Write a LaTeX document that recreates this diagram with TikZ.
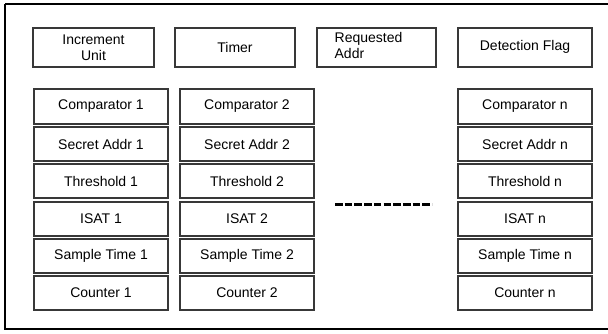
\documentclass[tikz,border=0pt]{standalone}
\usepackage{fontspec}
\setmainfont{Liberation Sans}
\begin{document}
\begin{tikzpicture}[x=1pt,y=-1pt,
  cell/.style={draw=black!78, line width=2pt, rectangle, inner sep=0pt,
    minimum width=134pt, minimum height=34.5pt, font=\fontsize{14}{15.5}\selectfont},
  topcell/.style={cell, minimum height=39pt, align=center},
  frame/.style={draw=black, line width=2.6pt},
  gap/.style={draw=black, line width=3pt, dash pattern=on 7.6pt off 2.1pt}]
\useasboundingbox (0,0) rectangle (608,333);
% enclosing frame (its right edge lies past the page)
\draw[frame] (5,4) -- (614,4) (5,4) -- (5,329) -- (614,329);
% top row of shared units
\node[topcell, minimum width=121pt] (inc) at (93.5,47.5) {Increment\\Unit};
\node[topcell, minimum width=120pt] (timer) at (235,47.5) {Timer};
\node[topcell, minimum width=119pt, align=left] (req) at (376.5,47.5)
  {\begin{tabular}{@{}l@{}}Requested\\Addr\end{tabular}\hspace*{16pt}};
\node[topcell, minimum width=134pt] (flag) at (525,47) {Detection Flag};
% register columns
\foreach \c/\x in {1/101, 2/247, n/525} {
  \node[cell] (cmp\c) at (\x,106.5) {Comparator \c};
  \node[cell] (sec\c) at (\x,144) {Secret Addr \c};
  \node[cell] (thr\c) at (\x,181) {Threshold \c};
  \node[cell] (isat\c) at (\x,219) {ISAT \c};
  \node[cell] (smp\c) at (\x,256) {Sample Time \c};
  \node[cell] (cnt\c) at (\x,293) {Counter \c};
}
% ellipsis between column 2 and column n
\coordinate (gapL) at (335,204);
\coordinate (gapR) at (432,204);
\draw[gap] (gapL) -- (gapR);
\end{tikzpicture}
\end{document}
